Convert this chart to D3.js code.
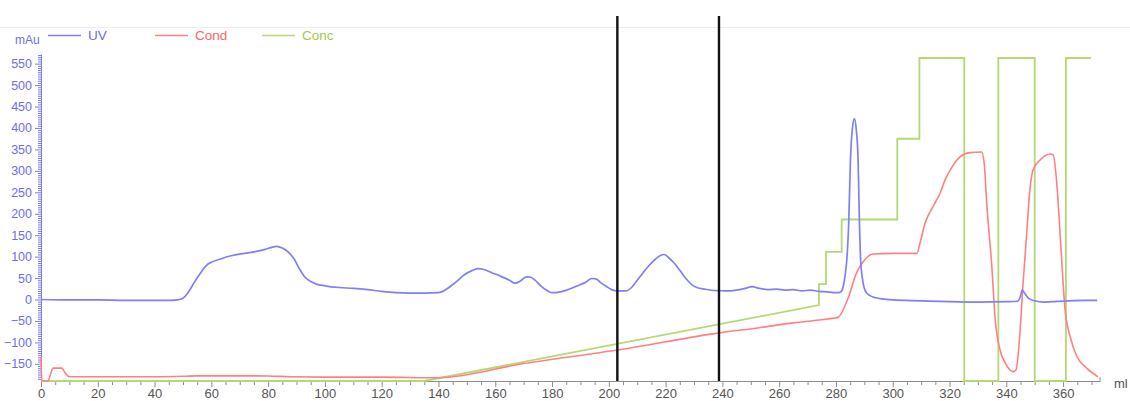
<!DOCTYPE html>
<html>
<head>
<meta charset="utf-8">
<script src="https://cdn.jsdelivr.net/npm/d3@7"></script>
<style>
  html, body { margin: 0; background: #fff; }
  svg { display: block; font-family: "Liberation Sans", Arial, sans-serif; }
</style>
</head>
<body>
<svg id="chart" width="1130" height="401"></svg>
<script>
// UV absorbance trace: [volume (ml), absorbance (mAU)]
const uvTrace = [
  [0,0],[10,-1],[20,-1],[30,-2],[40,-2],[46,-2],[48,-1],[50,3],[52,18],[54,40],[56,60],[58,78],
  [60,87],[63,94],[67,102],[71,107],[75,111],[79,117],[81,121],[83,124],[85,120],[87,111],
  [89,96],[91,72],[93,52],[95,42],[97,36],[100,32],[105,28],[110,26],[115,23],[120,19],
  [125,16],[130,15],[135,15],[140,16],[143,25],[146,40],[149,57],[152,68],[154,72],[156,70],
  [159,62],[162,54],[165,45],[167,38],[169,44],[171,53],[172.5,52],[174,45],[176,32],[178,22],
  [180,16],[183,18],[186,24],[189,32],[192,41],[194,49],[195.5,48],[197,40],[199,31],[201,23],
  [203,20],[206,20],[208,28],[210,45],[212,62],[214,78],[216,92],[218,102],[219.5,105],[221,98],
  [223,85],[225,68],[227,50],[229,36],[231,28],[234,24],[237,21],[241,20],[245,22],[248,26],
  [250.5,30],[253,26],[256,23],[259,24],[262,22],[265,23],[268,20],[271,22],[274,19],[277,18],
  [279,16],[281,16],[282,20],[282.7,35],[283.3,60],[283.8,91],[284.5,180],[285.1,324],[285.8,400],
  [286.5,422],[287.1,400],[287.8,324],[288.2,200],[288.7,91],[289.3,50],[289.9,28],[291,14],
  [292,9],[294,4],[297,1],[300,-1],[310,-3],[320,-5],[330,-6],[340,-5],[344,-4],[345,8],
  [345.6,22],[346.5,14],[348,2],[350,-3],[353,-6],[356,-5],[362,-3],[368,-2],[372,-2]
];

// Conductivity trace: [volume (ml), conductivity (mS/cm)]
const condTrace = [
  [0,7.4],[0.3,0],[2.5,0],[3.5,2.5],[4.2,4.0],[7.4,4.0],[8.5,2.5],[10.2,1.3],[20,1.3],[40,1.3],
  [50,1.45],[55,1.6],[70,1.6],[80,1.55],[88,1.3],[100,1.2],[120,1.2],[139.8,1.0],[170,5.4],
  [203,9.6],[239,14.9],[253,16.5],[265,18],[277,19.2],[280.7,19.7],[284,25],[287.4,33.8],
  [289.6,36.9],[293,39.3],[300,39.5],[308.5,39.5],[309.6,42.7],[311.4,48.9],[314.2,54],
  [316.7,58.2],[318.4,62.2],[320.9,66.3],[323.7,69.4],[327.2,70.7],[331.3,70.9],[332.2,67.5],
  [333.1,55],[334.9,35.4],[336,19.9],[337.8,9.6],[339.6,5.6],[342.4,2.9],[343.4,3.4],[344.8,14.9],
  [345.9,30.2],[347.2,45.8],[348,56],[349.4,65.3],[351.9,68.4],[355.4,70.3],[356.5,70],
  [357.6,63],[358.5,52],[359.5,37.5],[360.7,22],[362.5,13.7],[364.9,7.5],[368.4,3.9],[372.3,1.3]
];

// Buffer B concentration program: [volume (ml), %B]
const concTrace = [
  [0,0],[135,0],[274,23.5],[274,30],[276.5,30],[276.5,40],[282,40],[282,50],[301.6,50],
  [301.6,75],[309.4,75],[309.4,100],[325.2,100],[325.2,0],[337.2,0],[337.2,100],[350,100],
  [350,0],[361,0],[361,100],[369.8,100]
];

// Fraction pooling boundaries (ml)
const fractionCuts = [203, 238.8];

const seriesNames = ["UV", "Cond", "Conc"];
const seriesColors = ["#7f7ff8", "#ff8080", "#b4d873"];
const legendTextColors = ["#6a6aee", "#ff6464", "#9ccc4c"];

const yMajorTicks = d3.range(-150, 551, 50);
const yMinorTicks = d3.range(-185, 571, 5).filter(v => v % 50 !== 0);
const xMajorTicks = d3.range(0, 361, 20);
const xMinorTicks = d3.range(0, 371, 5).filter(v => v % 20 !== 0);

const svg = d3.select("#chart");

const x = d3.scaleLinear().domain([0, 373]).range([41, 1100]);
const yUV = d3.scaleLinear().domain([-190, 572]).range([381, 54.2]);
const yCond = d3.scaleLinear().domain([0, 100]).range([381, 58]);
const yConc = d3.scaleLinear().domain([0, 100]).range([381, 58]);

// thin rule under the header
svg.append("line")
  .attr("x1", 0).attr("x2", 1130).attr("y1", 27.5).attr("y2", 27.5)
  .attr("stroke", "#ececec").attr("stroke-width", 1);

// y axis (mAU)
const axisBlue = "#7b7bf5";
const yAxisG = svg.append("g").attr("transform", "translate(41,0)");
yAxisG.call(d3.axisLeft(yUV).tickValues(yMinorTicks).tickSize(3).tickSizeOuter(0).tickFormat(""));
const yMajorG = svg.append("g").attr("transform", "translate(41,0)");
yMajorG.call(d3.axisLeft(yUV).tickValues(yMajorTicks).tickSize(6).tickSizeOuter(0).tickPadding(3));
[yAxisG, yMajorG].forEach(g => {
  g.select(".domain").attr("stroke", axisBlue);
  g.selectAll(".tick line").attr("stroke", axisBlue);
});
yMajorG.selectAll("text")
  .attr("fill", "#6d6df2")
  .attr("font-size", 12.5)
  .attr("font-family", "'Liberation Sans', Arial, sans-serif");

// x axis (ml)
const axisGrey = "#8c8c8c";
const xMinorG = svg.append("g").attr("transform", "translate(0,381)");
xMinorG.call(d3.axisBottom(x).tickValues(xMinorTicks).tickSize(4).tickSizeOuter(0).tickFormat(""));
const xMajorG = svg.append("g").attr("transform", "translate(0,381)");
xMajorG.call(d3.axisBottom(x).tickValues(xMajorTicks).tickSize(6).tickSizeOuter(0).tickPadding(1.8));
[xMinorG, xMajorG].forEach(g => {
  g.select(".domain").attr("stroke", axisGrey);
  g.selectAll(".tick line").attr("stroke", axisGrey);
});
xMajorG.selectAll("text")
  .attr("fill", "#555")
  .attr("font-size", 13)
  .attr("font-family", "'Liberation Sans', Arial, sans-serif");
svg.append("line")
  .attr("x1", x(373)).attr("x2", x(373))
  .attr("y1", 381).attr("y2", 377)
  .attr("stroke", axisGrey);
svg.append("text")
  .attr("x", 1114).attr("y", 388)
  .attr("font-size", 13).attr("fill", "#555")
  .text("ml");

// unit label
svg.append("text")
  .attr("x", 15).attr("y", 44)
  .attr("font-size", 12).attr("fill", "#6d6df2")
  .text("mAu");

// traces
const plot = svg.append("g");
const concLine = d3.line().x(d => x(d[0])).y(d => yConc(d[1]));
const condLine = d3.line().x(d => x(d[0])).y(d => yCond(d[1])).curve(d3.curveMonotoneX);
const uvLine = d3.line().x(d => x(d[0])).y(d => yUV(d[1])).curve(d3.curveMonotoneX);

plot.append("path").datum(concTrace)
  .attr("d", concLine).attr("fill", "none")
  .attr("stroke", seriesColors[2]).attr("stroke-width", 1.8);
plot.append("path").datum(condTrace)
  .attr("d", condLine).attr("fill", "none")
  .attr("stroke", seriesColors[1]).attr("stroke-width", 1.6);
plot.append("path").datum(uvTrace)
  .attr("d", uvLine).attr("fill", "none")
  .attr("stroke", seriesColors[0]).attr("stroke-width", 1.7);

// fraction boundaries
svg.selectAll(".cut").data(fractionCuts).enter().append("line")
  .attr("class", "cut")
  .attr("x1", d => x(d)).attr("x2", d => x(d))
  .attr("y1", 16).attr("y2", 381)
  .attr("stroke", "#111").attr("stroke-width", 2.4);

// legend
const legendX = [48, 155, 262];
const legend = svg.append("g");
seriesNames.forEach((name, i) => {
  legend.append("line")
    .attr("x1", legendX[i]).attr("x2", legendX[i] + 33)
    .attr("y1", 35.5).attr("y2", 35.5)
    .attr("stroke", seriesColors[i]).attr("stroke-width", 1.4);
  legend.append("text")
    .attr("x", legendX[i] + 40).attr("y", 40)
    .attr("font-size", 13.5).attr("fill", legendTextColors[i])
    .text(name);
});
</script>
</body>
</html>
